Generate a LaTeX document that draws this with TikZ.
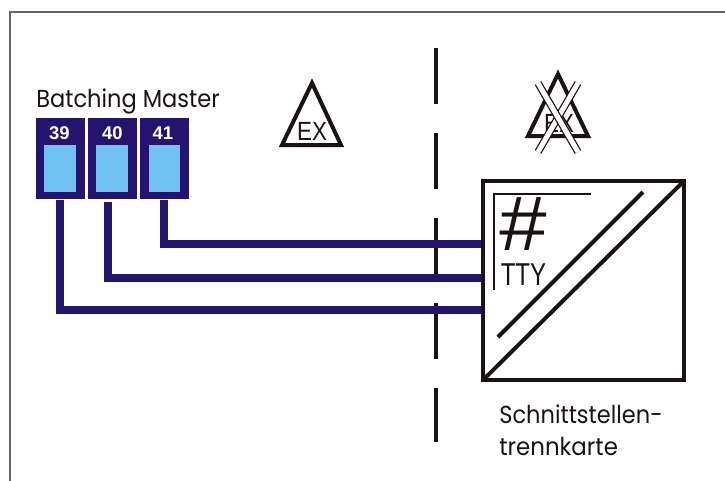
\documentclass[tikz,border=0pt]{standalone}
\usepackage{fontspec}
\setmainfont{Poppins}
\newfontfamily\labelfont{Liberation Sans}
\usepackage{tikz}

\definecolor{wireblue}{HTML}{24146F}
\definecolor{slotblue}{HTML}{6EC1F0}
\definecolor{inkblack}{HTML}{1A1311}

\newcommand{\narrowtext}[2]{\scalebox{#1}[1]{#2}}

\begin{document}
\begin{tikzpicture}[
    x=0.02cm, y=-0.02cm,
    terminal/.style = {draw=wireblue, fill=wireblue, line width=0.3pt, minimum width=0.96cm, minimum height=1.6cm, inner sep=0pt, outer sep=0pt},
    slot/.style     = {draw=none, fill=slotblue, minimum width=0.64cm, minimum height=0.94cm, inner sep=0pt},
    pin/.style      = {text=white, inner sep=0pt, font=\labelfont\bfseries\fontsize{10.5}{12}\selectfont},
    wire/.style     = {draw=wireblue, line width=0.16cm},
    thickline/.style= {draw=inkblack, line width=0.08cm},
    thinline/.style = {draw=inkblack, line width=0.03cm},
    caption/.style  = {text=inkblack, inner sep=0pt, anchor=base west, font=\fontsize{14}{16}\selectfont},
    warn/.style     = {thickline, line join=miter},
    exlabel/.style  = {text=inkblack, inner sep=0pt, font=\labelfont\fontsize{15}{16}\selectfont},
    crossbar/.style = {draw=inkblack, line width=0.025cm, double=white, double distance=0.1cm}
  ]

    \useasboundingbox (0,0) rectangle (725,481);

    %% ---- outer frame ----
    \coordinate (fa) at (10,481);
    \coordinate (fb) at (10,12);
    \coordinate (fc) at (725,12);
    \draw[draw=black!60, line width=0.04cm] (fa) -- (fb) -- (fc);

    %% ---- terminals ----
    \node[caption] (master) at (36,107) {\narrowtext{0.915}{Batching Master}};

    \node[terminal] (t39) at (60,158)   {};
    \node[terminal] (t40) at (112.5,158) {};
    \node[terminal] (t41) at (164.5,158) {};

    \node[slot] (s39) at (60,168.5)  {};
    \node[slot] (s40) at (112,168.5) {};
    \node[slot] (s41) at (164.5,168.5) {};

    \node[pin] (n39) at (59.5,132.7)  {39};
    \node[pin] (n40) at (112.5,132.7) {40};
    \node[pin] (n41) at (163,132.7) {41};

    %% ---- separator ----
    \coordinate (sa) at (436,48);
    \coordinate (sb) at (436,442);
    \draw[draw=inkblack, line width=0.08cm, dash pattern=on 1.13cm off 0.57cm] (sa) -- (sb);

    %% ---- ex triangles ----
    \coordinate (ta) at (312,83);
    \coordinate (tb) at (341,145);
    \coordinate (tc) at (282,145);
    \draw[warn] (ta) -- (tb) -- (tc) -- cycle;
    \node[exlabel] (exa) at (312,131.5) {\narrowtext{0.85}{EX}};

    \coordinate (ua) at (558,74);
    \coordinate (ub) at (588,136);
    \coordinate (uc) at (528,136);
    \draw[warn] (ua) -- (ub) -- (uc) -- cycle;
    \node[exlabel] (exb) at (559,123) {\narrowtext{0.85}{EX}};

    \coordinate (xa) at (538,83);
    \coordinate (xb) at (578,152);
    \coordinate (xc) at (578,83);
    \coordinate (xd) at (538,152);
    \draw[crossbar] (xc) -- (xd);
    \draw[crossbar] (xa) -- (xb);

    %% ---- wires ----
    \coordinate (w39) at (60,200);
    \coordinate (w40) at (108,202);
    \coordinate (w41) at (164,200);
    \coordinate (e39) at (482,310);
    \coordinate (e40) at (482,278);
    \coordinate (e41) at (482,244);

    \draw[wire] (w39) |- (e39);
    \draw[wire] (w40) |- (e40);
    \draw[wire] (w41) |- (e41);

    %% ---- card ----
    \node[thickline, draw, minimum width=4.02cm, minimum height=3.98cm, inner sep=0pt] (card) at (583.5,280.5) {};
    \draw[thickline, shorten <=1.5pt, shorten >=1.5pt] (card.south west) -- (card.north east);

    \coordinate (da) at (498,337);
    \coordinate (db) at (643,192);
    \draw[thickline] (da) -- (db);

    \coordinate (ca) at (494,290);
    \coordinate (cb) at (494,194);
    \coordinate (cc) at (591,194);
    \draw[thinline] (ca) -- (cb) -- (cc);

    \node[text=inkblack, inner sep=0pt, font=\labelfont\itshape\fontsize{44}{44}\selectfont] (hash) at (522.5,224.5) {\narrowtext{1.1}{\#}};
    \node[exlabel, font=\labelfont\fontsize{18}{18}\selectfont] (tty) at (523.5,275) {\narrowtext{0.76}{TTY}};

    \node[caption] (cardname) at (499,423) {\narrowtext{0.915}{Schnittstellen-}};
    \node[caption] (cardsub)  at (499,455) {\narrowtext{0.93}{trennkarte}};

\end{tikzpicture}
\end{document}
